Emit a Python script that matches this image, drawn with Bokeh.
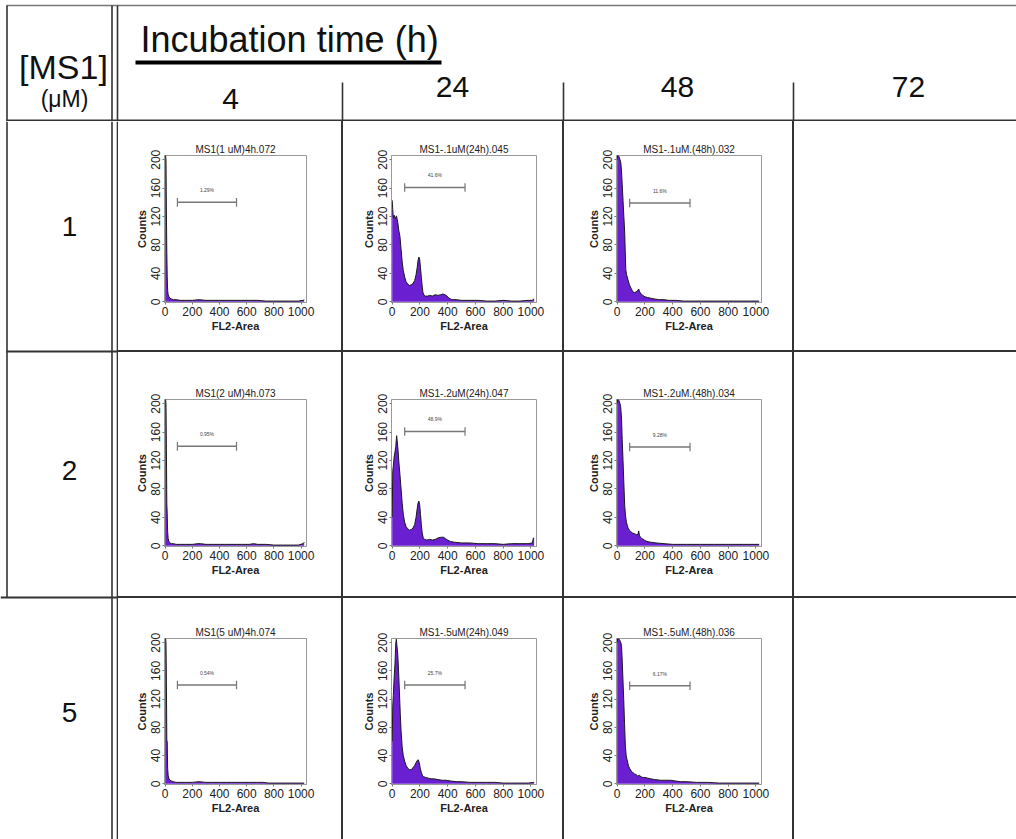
from bokeh.plotting import figure
from bokeh.models import Range1d, Div, FixedTicker
from bokeh.layouts import row, column
from bokeh.embed import file_html
from bokeh.resources import INLINE
from bokeh.core.properties import value

FONT = "Liberation Sans"
PURPLE = "#6a1fd0"
LINE = "#333333"

# ---------------- data ----------------
conc_labels = ["1", "2", "5"]
time_labels = ["4", "24", "48", "72"]
header_title = "Incubation time (h)"
conc_header = "[MS1]"
conc_unit = "(\u03bcM)"

panel_titles = [
    ["MS1(1 uM)4h.072", "MS1-.1uM(24h).045", "MS1-.1uM.(48h).032"],
    ["MS1(2 uM)4h.073", "MS1-.2uM(24h).047", "MS1-.2uM.(48h).034"],
    ["MS1(5 uM)4h.074", "MS1-.5uM(24h).049", "MS1-.5uM.(48h).036"],
]
gate_pct = [
    ["1.29%", "41.6%", "11.6%"],
    ["0.95%", "48.9%", "9.28%"],
    ["0.54%", "25.7%", "6.17%"],
]
gate_start = 90
gate_end = 525
gate_level = [[140, 161, 139], [140, 161, 139], [140, 140, 139]]

# histograms (FL2-Area channel, counts)
h1_4_x = [0, 3, 6, 9, 12, 15, 18, 22, 28, 35, 45, 60, 80, 110, 150, 200, 250, 300, 350, 400, 450, 500, 560, 620, 680, 740, 800, 860, 920, 980, 1015, 1023]
h1_4_y = [206, 206, 200, 125, 70, 35, 16, 10, 7, 5, 4, 3, 3, 2, 2, 2, 3, 2, 2, 2, 2, 2, 2, 2, 2, 1, 1, 1, 1, 1, 2, 3]

h1_24_x = [0, 4, 8, 14, 22, 31, 40, 48, 56, 64, 72, 80, 90, 100, 112, 125, 138, 150, 162, 172, 180, 186, 192, 198, 204, 210, 216, 222, 230, 240, 255, 270, 290, 310, 330, 350, 365, 380, 395, 410, 430, 460, 500, 560, 620, 680, 740, 800, 860, 920, 980, 1010, 1020, 1023]
h1_24_y = [143, 130, 118, 122, 117, 121, 112, 100, 92, 74, 56, 44, 35, 28, 25, 23, 24, 26, 30, 38, 48, 58, 63, 60, 48, 34, 22, 13, 9, 8, 8, 9, 8, 10, 9, 10, 11, 10, 8, 5, 3, 3, 2, 2, 2, 1, 1, 2, 1, 1, 2, 2, 4, 4]

h1_48_x = [0, 3, 8, 14, 20, 26, 31, 36, 42, 48, 54, 58, 62, 68, 76, 88, 100, 113, 125, 137, 148, 155, 162, 172, 185, 200, 220, 242, 270, 300, 337, 370, 420, 480, 560, 640, 720, 800, 880, 960, 1020, 1023]
h1_48_y = [200, 206, 206, 204, 200, 196, 184, 165, 143, 120, 98, 70, 45, 38, 32, 24, 19, 14, 13, 14, 16, 18, 14, 11, 9, 7, 6, 5, 4, 3, 3, 2, 2, 1, 1, 1, 1, 1, 1, 1, 1, 1]

h2_4_x = [0, 3, 6, 9, 12, 15, 18, 22, 28, 35, 45, 60, 80, 110, 150, 200, 240, 260, 300, 350, 400, 450, 500, 560, 620, 650, 680, 740, 800, 860, 920, 980, 1015, 1023]
h2_4_y = [206, 206, 200, 135, 60, 45, 20, 10, 6, 4, 3, 3, 2, 2, 2, 2, 3, 3, 2, 2, 2, 2, 2, 2, 2, 3, 2, 2, 1, 1, 1, 1, 3, 5]

h2_24_x = [0, 4, 8, 14, 20, 26, 32, 36, 42, 48, 56, 64, 72, 80, 90, 100, 112, 125, 138, 150, 162, 172, 180, 186, 192, 198, 204, 210, 216, 224, 234, 250, 270, 290, 310, 330, 350, 370, 385, 400, 420, 450, 500, 560, 620, 680, 740, 800, 860, 920, 980, 1010, 1018, 1023]
h2_24_y = [40, 105, 112, 125, 132, 140, 155, 148, 135, 118, 100, 80, 60, 44, 33, 27, 24, 22, 23, 25, 30, 40, 52, 60, 63, 58, 44, 30, 18, 11, 9, 8, 9, 8, 9, 11, 12, 12, 10, 8, 6, 5, 4, 4, 3, 3, 3, 2, 3, 3, 3, 4, 11, 11]

h2_48_x = [0, 3, 8, 14, 20, 25, 31, 36, 42, 48, 54, 60, 66, 72, 78, 88, 97, 110, 125, 135, 144, 150, 155, 160, 167, 180, 195, 215, 242, 280, 337, 400, 500, 600, 700, 800, 900, 1000, 1023]
h2_48_y = [200, 206, 206, 204, 200, 196, 180, 150, 120, 88, 57, 42, 34, 29, 25, 22, 20, 18, 17, 16, 15, 17, 21, 15, 12, 10, 8, 6, 5, 4, 3, 2, 2, 2, 2, 2, 2, 2, 2]

h5_4_x = [0, 3, 6, 9, 12, 15, 18, 22, 28, 35, 45, 60, 80, 110, 150, 200, 250, 300, 350, 400, 450, 500, 560, 620, 680, 720, 760, 800, 860, 920, 980, 1023]
h5_4_y = [206, 206, 200, 145, 62, 60, 22, 12, 7, 5, 4, 3, 2, 2, 2, 2, 3, 2, 2, 2, 2, 2, 2, 2, 2, 2, 1, 1, 1, 1, 1, 1]

h5_24_x = [0, 4, 8, 14, 20, 26, 30, 34, 40, 46, 52, 58, 64, 72, 80, 90, 100, 112, 125, 138, 150, 162, 172, 180, 188, 195, 202, 210, 218, 228, 240, 260, 280, 300, 330, 360, 390, 420, 460, 500, 560, 620, 680, 740, 800, 860, 920, 980, 1020, 1023]
h5_24_y = [60, 110, 125, 150, 170, 200, 205, 196, 184, 160, 130, 100, 75, 52, 40, 32, 26, 22, 20, 20, 23, 26, 30, 33, 34, 30, 22, 16, 12, 10, 9, 8, 7, 7, 6, 5, 5, 4, 3, 3, 2, 2, 2, 2, 1, 1, 1, 1, 2, 2]

h5_48_x = [0, 3, 8, 14, 20, 26, 31, 35, 41, 47, 53, 59, 65, 71, 82, 92, 101, 112, 125, 137, 148, 160, 172, 184, 200, 220, 242, 270, 313, 350, 384, 420, 454, 500, 572, 650, 737, 820, 900, 980, 1023]
h5_48_y = [200, 206, 206, 205, 203, 200, 196, 180, 150, 120, 85, 52, 40, 34, 25, 21, 18, 16, 14, 13, 11, 12, 10, 9, 9, 8, 7, 6, 5, 5, 5, 4, 3, 3, 2, 2, 1, 1, 1, 1, 1]

hist_x = [[h1_4_x, h1_24_x, h1_48_x], [h2_4_x, h2_24_x, h2_48_x], [h5_4_x, h5_24_x, h5_48_x]]
hist_y = [[h1_4_y, h1_24_y, h1_48_y], [h2_4_y, h2_24_y, h2_48_y], [h5_4_y, h5_24_y, h5_48_y]]

x_ticks = [0, 200, 400, 600, 800, 1000]
y_ticks = [0, 40, 80, 120, 160, 200]

# ---------------- layout constants ----------------
TOTAL_W, HEADER_H = 1016, 121
LABEL_W = 118
col_specs = [(46, 142, 35), (48, 145, 26), (52, 145, 31)]   # left border, frame, right border
row_specs = [(34, 147, 48), (47, 147, 50), (40, 146, 55)]   # top border, frame, bottom border
LAST_COL_W = 222
SEP = 2


def hist_fig(r, c):
    bl, fw, br = col_specs[c]
    bt, fh, bb = row_specs[r]
    p = figure(width=bl + fw + br, height=bt + fh + bb,
               x_range=Range1d(-5, 1040), y_range=Range1d(-1, 206),
               min_border_left=bl, min_border_right=br,
               min_border_top=bt, min_border_bottom=bb,
               output_backend="svg", toolbar_location=None,
               title=panel_titles[r][c])
    p.title.text_font = FONT
    p.title.text_font_size = "10px"
    p.title.text_font_style = "normal"
    p.title.text_color = "#222222"
    p.title.align = "center"
    p.title.standoff = 1
    p.background_fill_color = "white"
    p.border_fill_color = "white"
    p.outline_line_color = "#999999"
    p.xgrid.visible = False
    p.ygrid.visible = False

    xs, ys = hist_x[r][c], hist_y[r][c]
    p.varea(x=xs, y1=[0] * len(xs), y2=ys, fill_color=PURPLE)
    p.line(xs, ys, line_color="#1a1a1a", line_width=1)

    gy = gate_level[r][c]
    p.segment(x0=[gate_start], y0=[gy], x1=[gate_end], y1=[gy],
              line_color="#777777", line_width=1.5)
    p.segment(x0=[gate_start, gate_end], y0=[gy - 6, gy - 6],
              x1=[gate_start, gate_end], y1=[gy + 6, gy + 6],
              line_color="#777777", line_width=1.2)
    p.text(x=[(gate_start + gate_end) / 2], y=[gy + 17], text=[gate_pct[r][c]],
           text_font=value(FONT), text_font_size="5px", text_color="#444444",
           text_align="center", text_baseline="middle")

    p.xaxis.ticker = FixedTicker(ticks=x_ticks)
    p.yaxis.ticker = FixedTicker(ticks=y_ticks)
    p.xaxis.axis_label = "FL2-Area"
    p.yaxis.axis_label = "Counts"
    for ax in (p.xaxis[0], p.yaxis[0]):
        ax.major_label_text_font = FONT
        ax.major_label_text_font_size = "12px"
        ax.major_label_text_color = "#222222"
        ax.axis_label_text_font = FONT
        ax.axis_label_text_font_size = "11px"
        ax.axis_label_text_font_style = "bold"
        ax.axis_label_text_color = "#222222"
        ax.axis_line_color = "#999999"
        ax.major_tick_line_color = "#777777"
        ax.major_tick_out = 2
        ax.major_tick_in = 0
        ax.minor_tick_out = 0
        ax.minor_tick_in = 0
        ax.major_label_standoff = 2
        ax.axis_label_standoff = 1
    p.yaxis.major_label_orientation = "vertical"
    return p


def sep(w, h, color=LINE):
    return Div(width=w, height=h, margin=0, styles={"background-color": color})


def blank(w, h):
    return Div(width=w, height=h, margin=0, styles={"background-color": "white"})


# ---------------- header ----------------
hdr = figure(width=TOTAL_W, height=HEADER_H, x_range=Range1d(0, TOTAL_W),
             y_range=Range1d(HEADER_H, 0), min_border=0,
             x_axis_type=None, y_axis_type=None, output_backend="svg",
             toolbar_location=None, outline_line_color=None)
hdr.background_fill_color = "white"
hdr.border_fill_color = "white"
hdr.grid.visible = False
# table rules in header
hdr.segment(x0=[6], y0=[5], x1=[TOTAL_W], y1=[5], line_color="#777777", line_width=1.5)
hdr.segment(x0=[6.5, 111.5, 117], y0=[5, 5, 5], x1=[6.5, 111.5, 117],
            y1=[HEADER_H, HEADER_H, HEADER_H], line_color=LINE, line_width=1.6)
hdr.segment(x0=[342, 563, 793], y0=[82, 82, 82], x1=[342, 563, 793],
            y1=[HEADER_H, HEADER_H, HEADER_H], line_color=LINE, line_width=1.6)
hdr.segment(x0=[6], y0=[120], x1=[TOTAL_W], y1=[120], line_color=LINE, line_width=2)
# title + underline
hdr.text(x=[140], y=[39], text=[header_title], text_font=value(FONT),
         text_font_size="36px", text_align="left", text_baseline="middle", text_color="#111111")
hdr.segment(x0=[135], y0=[62], x1=[441], y1=[62], line_color="#000000", line_width=4)
hdr.text(x=[63], y=[66], text=[conc_header], text_font=value(FONT),
         text_font_size="34px", text_align="center", text_baseline="middle", text_color="#111111")
hdr.text(x=[64], y=[98], text=[conc_unit], text_font=value(FONT),
         text_font_size="23px", text_align="center", text_baseline="middle", text_color="#111111")
col_label_x = [230, 452, 677, 908]
col_label_y = [98, 86, 86, 86]
hdr.text(x=col_label_x, y=col_label_y, text=time_labels, text_font=value(FONT),
         text_font_size="30px", text_align="center", text_baseline="middle", text_color="#111111")

# ---------------- row labels column ----------------
BODY_H = sum(t + f + b for t, f, b in row_specs) + SEP * (len(row_specs) - 1)
lab = figure(width=LABEL_W, height=BODY_H, x_range=Range1d(0, LABEL_W),
             y_range=Range1d(BODY_H, 0), min_border=0,
             x_axis_type=None, y_axis_type=None, output_backend="svg",
             toolbar_location=None, outline_line_color=None)
lab.background_fill_color = "white"
lab.border_fill_color = "white"
lab.grid.visible = False
row_h = [t + f + b for t, f, b in row_specs]
row_line_y = [row_h[0] + 1, row_h[0] + SEP + row_h[1] + 1]
lab.segment(x0=[6.5], y0=[0], x1=[6.5], y1=[row_line_y[1]], line_color=LINE, line_width=1.6)
lab.segment(x0=[111.5, 117], y0=[0, 0], x1=[111.5, 117], y1=[BODY_H, BODY_H],
            line_color=LINE, line_width=1.6)
lab.segment(x0=[6, 0], y0=row_line_y, x1=[LABEL_W, LABEL_W], y1=row_line_y,
            line_color=LINE, line_width=2)
row_label_y = [105, 349, 591]
lab.text(x=[69, 69, 69], y=row_label_y, text=conc_labels, text_font=value(FONT),
         text_font_size="28px", text_align="center", text_baseline="middle", text_color="#111111")

# ---------------- grid of histograms ----------------
right_items = []
for r in range(3):
    h = row_h[r]
    items = []
    for c in range(3):
        items.append(hist_fig(r, c))
        items.append(sep(SEP, h))
    items.append(blank(LAST_COL_W, h))
    right_items.append(row(*items, spacing=0))
    if r < 2:
        right_w = sum(a + b + d for a, b, d in col_specs) + 3 * SEP + LAST_COL_W
        right_items.append(sep(right_w, SEP))

body = row(lab, column(*right_items, spacing=0), spacing=0)
layout = column(hdr, body, spacing=0)

open("out.html", "w").write(file_html(layout, INLINE))
